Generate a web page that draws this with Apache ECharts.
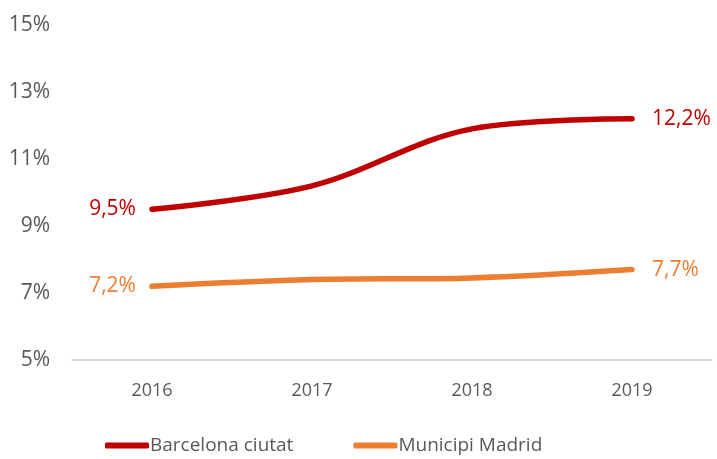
<!DOCTYPE html>
<html>
<head>
<meta charset="utf-8">
<script src="https://cdn.jsdelivr.net/npm/echarts@6/dist/echarts.min.js"></script>
<style>
  html, body { margin: 0; padding: 0; background: #fff; }
  #chart { width: 717px; height: 459px; }
</style>
</head>
<body>
<div id="chart"></div>
<script>
// data
const years = ['2016', '2017', '2018', '2019'];
const barcelona = [9.5, 10.2, 11.9, 12.2];
const madrid = [7.2, 7.4, 7.45, 7.7];
const seriesNames = ['Barcelona ciutat', 'Municipi Madrid'];

const FONT = '"Open Sans", "Liberation Sans", sans-serif';
const GREY = '#595959';

// label only first and last point, Spanish decimal comma
function endLabels(values, color) {
  return values.map((v, i) => {
    const first = i === 0, last = i === values.length - 1;
    if (!first && !last) return v;
    return {
      value: v,
      label: {
        show: true,
        position: first ? 'left' : 'right',
        distance: first ? 16 : 20,
        color: color,
        fontSize: 21,
        fontFamily: FONT,
        formatter: p => p.value.toFixed(1).replace('.', ',') + '%'
      }
    };
  });
}

const chart = echarts.init(document.getElementById('chart'));
chart.setOption({
  animation: false,
  grid: { left: 72, right: 5, top: 25, bottom: 99 },
  legend: {
    top: 431,
    left: 100,
    itemWidth: 44,
    itemHeight: 6,
    itemGap: 60,
    icon: 'roundRect',
    textStyle: { color: GREY, fontSize: 19, fontFamily: FONT, padding: [0, 0, 0, -4] },
    data: seriesNames
  },
  xAxis: {
    type: 'category',
    data: years,
    axisLine: { lineStyle: { color: '#D9D9D9', width: 2 } },
    axisTick: { show: false },
    axisLabel: { color: GREY, fontSize: 18, fontFamily: FONT, margin: 22 }
  },
  yAxis: {
    type: 'value',
    min: 5,
    max: 15,
    interval: 2,
    splitLine: { show: false },
    axisLine: { show: false },
    axisLabel: { color: GREY, fontSize: 21, fontFamily: FONT, margin: 22, formatter: '{value}%' }
  },
  series: [
    {
      name: seriesNames[0],
      type: 'line',
      smooth: 0.35,
      symbol: 'circle',
      symbolSize: 0.1,
      color: '#C00000',
      lineStyle: { width: 5.5, cap: 'round' },
      data: endLabels(barcelona, '#C00000')
    },
    {
      name: seriesNames[1],
      type: 'line',
      smooth: 0.35,
      symbol: 'circle',
      symbolSize: 0.1,
      color: '#ED7D31',
      lineStyle: { width: 5.5, cap: 'round' },
      data: endLabels(madrid, '#ED7D31')
    }
  ]
});
</script>
</body>
</html>
